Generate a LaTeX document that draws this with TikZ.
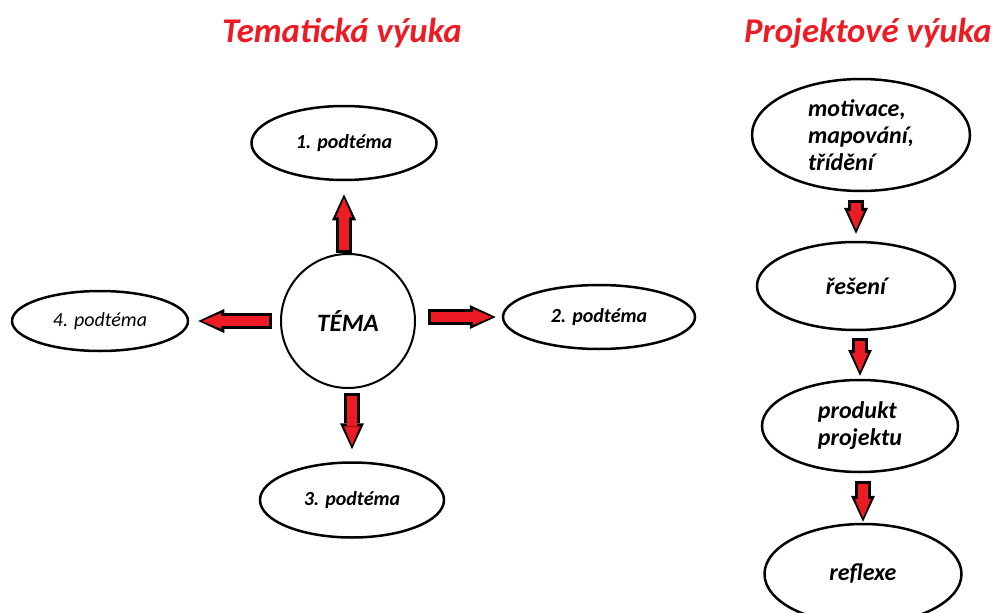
\documentclass[tikz,border=0pt]{standalone}
\usepackage{fontspec}
\setmainfont{Carlito}
\usetikzlibrary{arrows.meta,shapes.geometric}
\definecolor{paintred}{RGB}{237,28,36}
\tikzset{
	titel/.style={font=\fontsize{34.7}{40}\selectfont\bfseries\itshape, text=paintred},
	podtema/.style={draw, ellipse, line width=2.5pt, inner sep=0pt, font=\fontsize{20}{24}\selectfont\bfseries\itshape},
	krok/.style={draw, ellipse, line width=2.5pt, inner sep=0pt, align=left, font=\fontsize{24}{27}\selectfont\bfseries\itshape},
	blk/.style 2 args={draw=paintred, line width=10pt, shorten <=#1+3pt, shorten >=#2+4pt,
		-{Triangle[length=19pt,width=16pt,line width=0pt]},
		preaction={draw=black, line width=16pt, shorten <=#1, shorten >=#2,
			-{Triangle[length=26pt,width=24pt,line width=0pt]}}}
}
\begin{document}
\begin{tikzpicture}[x=1pt,y=-1pt]
	\useasboundingbox (0,0) rectangle (997,613);
	\node[titel] at (342, 33) (t1) {Tematická výuka};
	\node[titel] at (868, 33) (t2) {Projektové výuka};
	
	\node[draw, circle, line width=2pt, minimum size=134pt, inner sep=0pt, font=\fontsize{25}{30}\selectfont\bfseries\itshape] at (348, 321) (tema) {TÉMA};
	\node[podtema, minimum width=185pt, minimum height=74pt] at (344, 143) (p1) {1. podtéma};
	\node[podtema, minimum width=192pt, minimum height=64pt] at (599, 317) (p2) {2. podtéma};
	\node[podtema, minimum width=184pt, minimum height=75pt] at (352, 500) (p3) {3. podtéma};
	\node[podtema, minimum width=176pt, minimum height=60pt, font=\fontsize{20}{24}\selectfont\itshape] at (100, 321) (p4) {4. podtéma};
	\draw[blk={0pt}{13pt}] (p1 |- tema.north) -- (p1.south);
	\draw[blk={12pt}{6pt}] (tema.east |- p2) -- (p2.west);
	\draw[blk={4pt}{12pt}] (p3 |- tema.south) -- (p3.north);
	\draw[blk={8pt}{9pt}] (tema.west |- p4) -- (p4.east);
	
	\node[krok, minimum width=218pt, minimum height=112pt] at (861, 135) (r1) {motivace,\\mapování,\\třídění};
	\node[krok, minimum width=198pt, minimum height=88pt] at (856, 286) (r2) {řešení};
	\node[krok, minimum width=196pt, minimum height=92pt] at (860, 426) (r3) {produkt\\projektu};
	\node[krok, minimum width=197pt, minimum height=100pt] at (863, 574) (r4) {reflexe};
	\draw[blk={8pt}{7pt}] (r2 |- r1.south) -- (r2.north);
	\draw[blk={7pt}{3pt}] (r3 |- r2.south) -- (r3.north);
	\draw[blk={8pt}{1pt}] (r4 |- r3.south) -- (r4.north);
\end{tikzpicture}
\end{document}
